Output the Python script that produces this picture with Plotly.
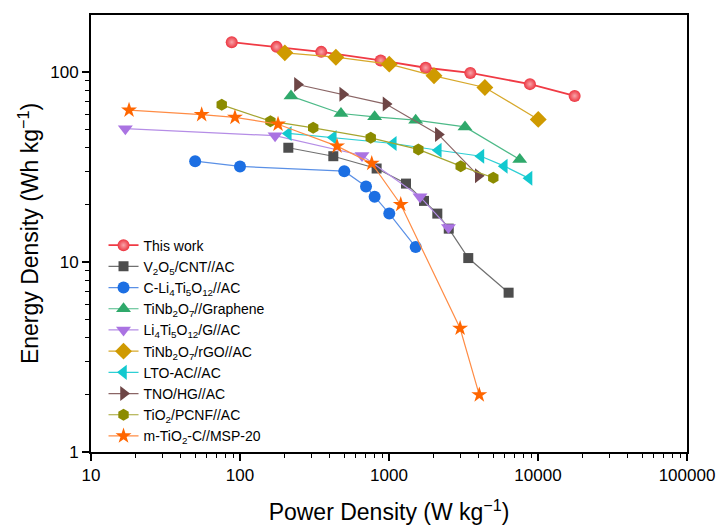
import plotly.graph_objects as go
import numpy as np

# ---- data ----
names = [
    "This work",
    "V<sub>2</sub>O<sub>5</sub>/CNT//AC",
    "C-Li<sub>4</sub>Ti<sub>5</sub>O<sub>12</sub>//AC",
    "TiNb<sub>2</sub>O<sub>7</sub>//Graphene",
    "Li<sub>4</sub>Ti<sub>5</sub>O<sub>12</sub>/G//AC",
    "TiNb<sub>2</sub>O<sub>7</sub>/rGO//AC",
    "LTO-AC//AC",
    "TNO/HG//AC",
    "TiO<sub>2</sub>/PCNF//AC",
    "m-TiO<sub>2</sub>-C//MSP-20",
]

this_work_p = [88, 176, 351, 879, 1762, 3515, 8830, 17620]
this_work_e = [143.9, 135.9, 127.9, 115.3, 105.5, 99.1, 86.5, 75.0]

v2o5_p = [211, 423, 826, 1300, 1717, 2110, 2518, 3404, 6350]
v2o5_e = [40.0, 36.1, 31.1, 25.9, 21.0, 18.0, 15.0, 10.5, 6.9]

clto_p = [50, 100, 501, 701, 801, 1004, 1510]
clto_e = [34.0, 31.9, 30.1, 25.0, 22.1, 18.0, 12.0]

tnb_graphene_p = [220, 476, 801, 1510, 3236, 7540]
tnb_graphene_e = [74.8, 60.6, 58.2, 55.9, 51.5, 34.7]

lto_g_p = [17.0, 172, 659, 1614, 2506]
lto_g_e = [50.4, 46.3, 36.4, 22.1, 15.2]

tnb_rgo_p = [200, 440, 1004, 2005, 4400, 10040]
tnb_rgo_e = [126.4, 119.9, 110.2, 95.7, 83.1, 56.4]

lto_ac_p = [211, 423, 1069, 2143, 4140, 5944, 8710]
lto_ac_e = [47.6, 45.3, 42.1, 38.8, 36.1, 32.0, 27.6]

tno_hg_p = [243, 489, 955, 2143, 3970]
tno_hg_e = [86.1, 76.6, 67.9, 47.0, 28.5]

tio2_pcnf_p = [75.4, 160, 310, 754, 1574, 3028, 5012]
tio2_pcnf_e = [67.3, 55.2, 50.9, 45.1, 39.2, 32.0, 27.8]

mtio2_p = [18.0, 55.3, 92.5, 180, 448, 766, 1199, 3000, 4036]
mtio2_e = [63.1, 59.8, 57.8, 53.2, 40.8, 33.1, 20.1, 4.48, 2.0]

xs = [this_work_p, v2o5_p, clto_p, tnb_graphene_p, lto_g_p, tnb_rgo_p,
      lto_ac_p, tno_hg_p, tio2_pcnf_p, mtio2_p]
ys = [this_work_e, v2o5_e, clto_e, tnb_graphene_e, lto_g_e, tnb_rgo_e,
      lto_ac_e, tno_hg_e, tio2_pcnf_e, mtio2_e]

x_ticks = [10, 100, 1000, 10000, 100000]
x_ticktext = ["10", "100", "1000", "10000", "100000"]
y_ticks = [1, 10, 100]
y_ticktext = ["1", "10", "100"]

# ---- styles ----
marker_colors = ["#EC3540", "#4D4D4D", "#1C6FE3", "#2FA96B", "#AA73E2",
                 "#CF9A00", "#12C9CF", "#6E4646", "#8B8B00", "#FF6600"]
line_colors = ["#F03A44", "#707070", "#5A90E6", "#4DBA88", "#B58DE6",
               "#D7A82A", "#2ECFD4", "#8A6565", "#A5A530", "#FF8C45"]
symbols = ["circle", "square", "circle", "triangle-up", "triangle-down",
           "diamond", "triangle-left", "triangle-right", "hexagon", "star"]
sizes = [12, 10, 12, 13, 13, 13, 13, 13, 12, 12]
lwidths = [1.8, 1.2, 1.2, 1.2, 1.2, 1.2, 1.2, 1.2, 1.2, 1.2]

fig = go.Figure()
for i in range(len(names)):
    marker = dict(symbol=symbols[i], size=sizes[i], color=marker_colors[i],
                  line=dict(width=0))
    if i == 0:
        marker["gradient"] = dict(type="radial", color="#F8A5AA")
    fig.add_trace(go.Scatter(
        x=xs[i], y=ys[i], mode="lines+markers", name=names[i],
        line=dict(color=line_colors[i], width=lwidths[i]),
        marker=marker,
    ))

minor_x = [m * 10 ** d for d in range(1, 5) for m in range(2, 10)]
minor_y = [m * 10 ** d for d in range(0, 3) for m in range(2, 10) if m * 10 ** d < 200]

font_family = "Liberation Sans, Arial, sans-serif"

fig.update_layout(
    width=721, height=529,
    margin=dict(l=91, r=34, t=15, b=77),
    paper_bgcolor="white", plot_bgcolor="white",
    font=dict(family=font_family, color="black"),
    showlegend=True,
    legend=dict(x=0.021, y=0.509, xanchor="left", yanchor="top",
                bgcolor="rgba(0,0,0,0)", font=dict(size=14, family=font_family),
                itemwidth=30, tracegroupgap=0),
)
fig.update_xaxes(
    type="log", range=[1, 5], automargin=False,
    tickmode="array", tickvals=x_ticks, ticktext=x_ticktext,
    ticks="outside", ticklen=7, tickwidth=1.5, tickcolor="black",
    tickfont=dict(size=17, family=font_family),
    minor=dict(tickmode="array", tickvals=minor_x, ticks="outside",
               ticklen=4, tickwidth=1.2, tickcolor="black", showgrid=False),
    showline=True, linecolor="black", linewidth=1.8, mirror=True,
    showgrid=False, zeroline=False,
    title=dict(text="Power Density (W kg<sup>−1</sup>)",
               font=dict(size=23, family=font_family), standoff=20),
)
fig.update_yaxes(
    type="log", range=[0, np.log10(200)], automargin=False,
    tickmode="array", tickvals=y_ticks, ticktext=y_ticktext,
    ticks="outside", ticklen=7, tickwidth=1.5, tickcolor="black",
    tickfont=dict(size=17, family=font_family),
    minor=dict(tickmode="array", tickvals=minor_y, ticks="outside",
               ticklen=4, tickwidth=1.2, tickcolor="black", showgrid=False),
    showline=True, linecolor="black", linewidth=1.8, mirror=True,
    showgrid=False, zeroline=False,
    title=dict(text="Energy Density (Wh kg<sup>−1</sup>)",
               font=dict(size=23, family=font_family), standoff=5),
)

fig.write_html(
    "out.html",
    config={"displayModeBar": False},
    post_script="document.body.style.margin='0';document.body.style.overflow='hidden';",
)
